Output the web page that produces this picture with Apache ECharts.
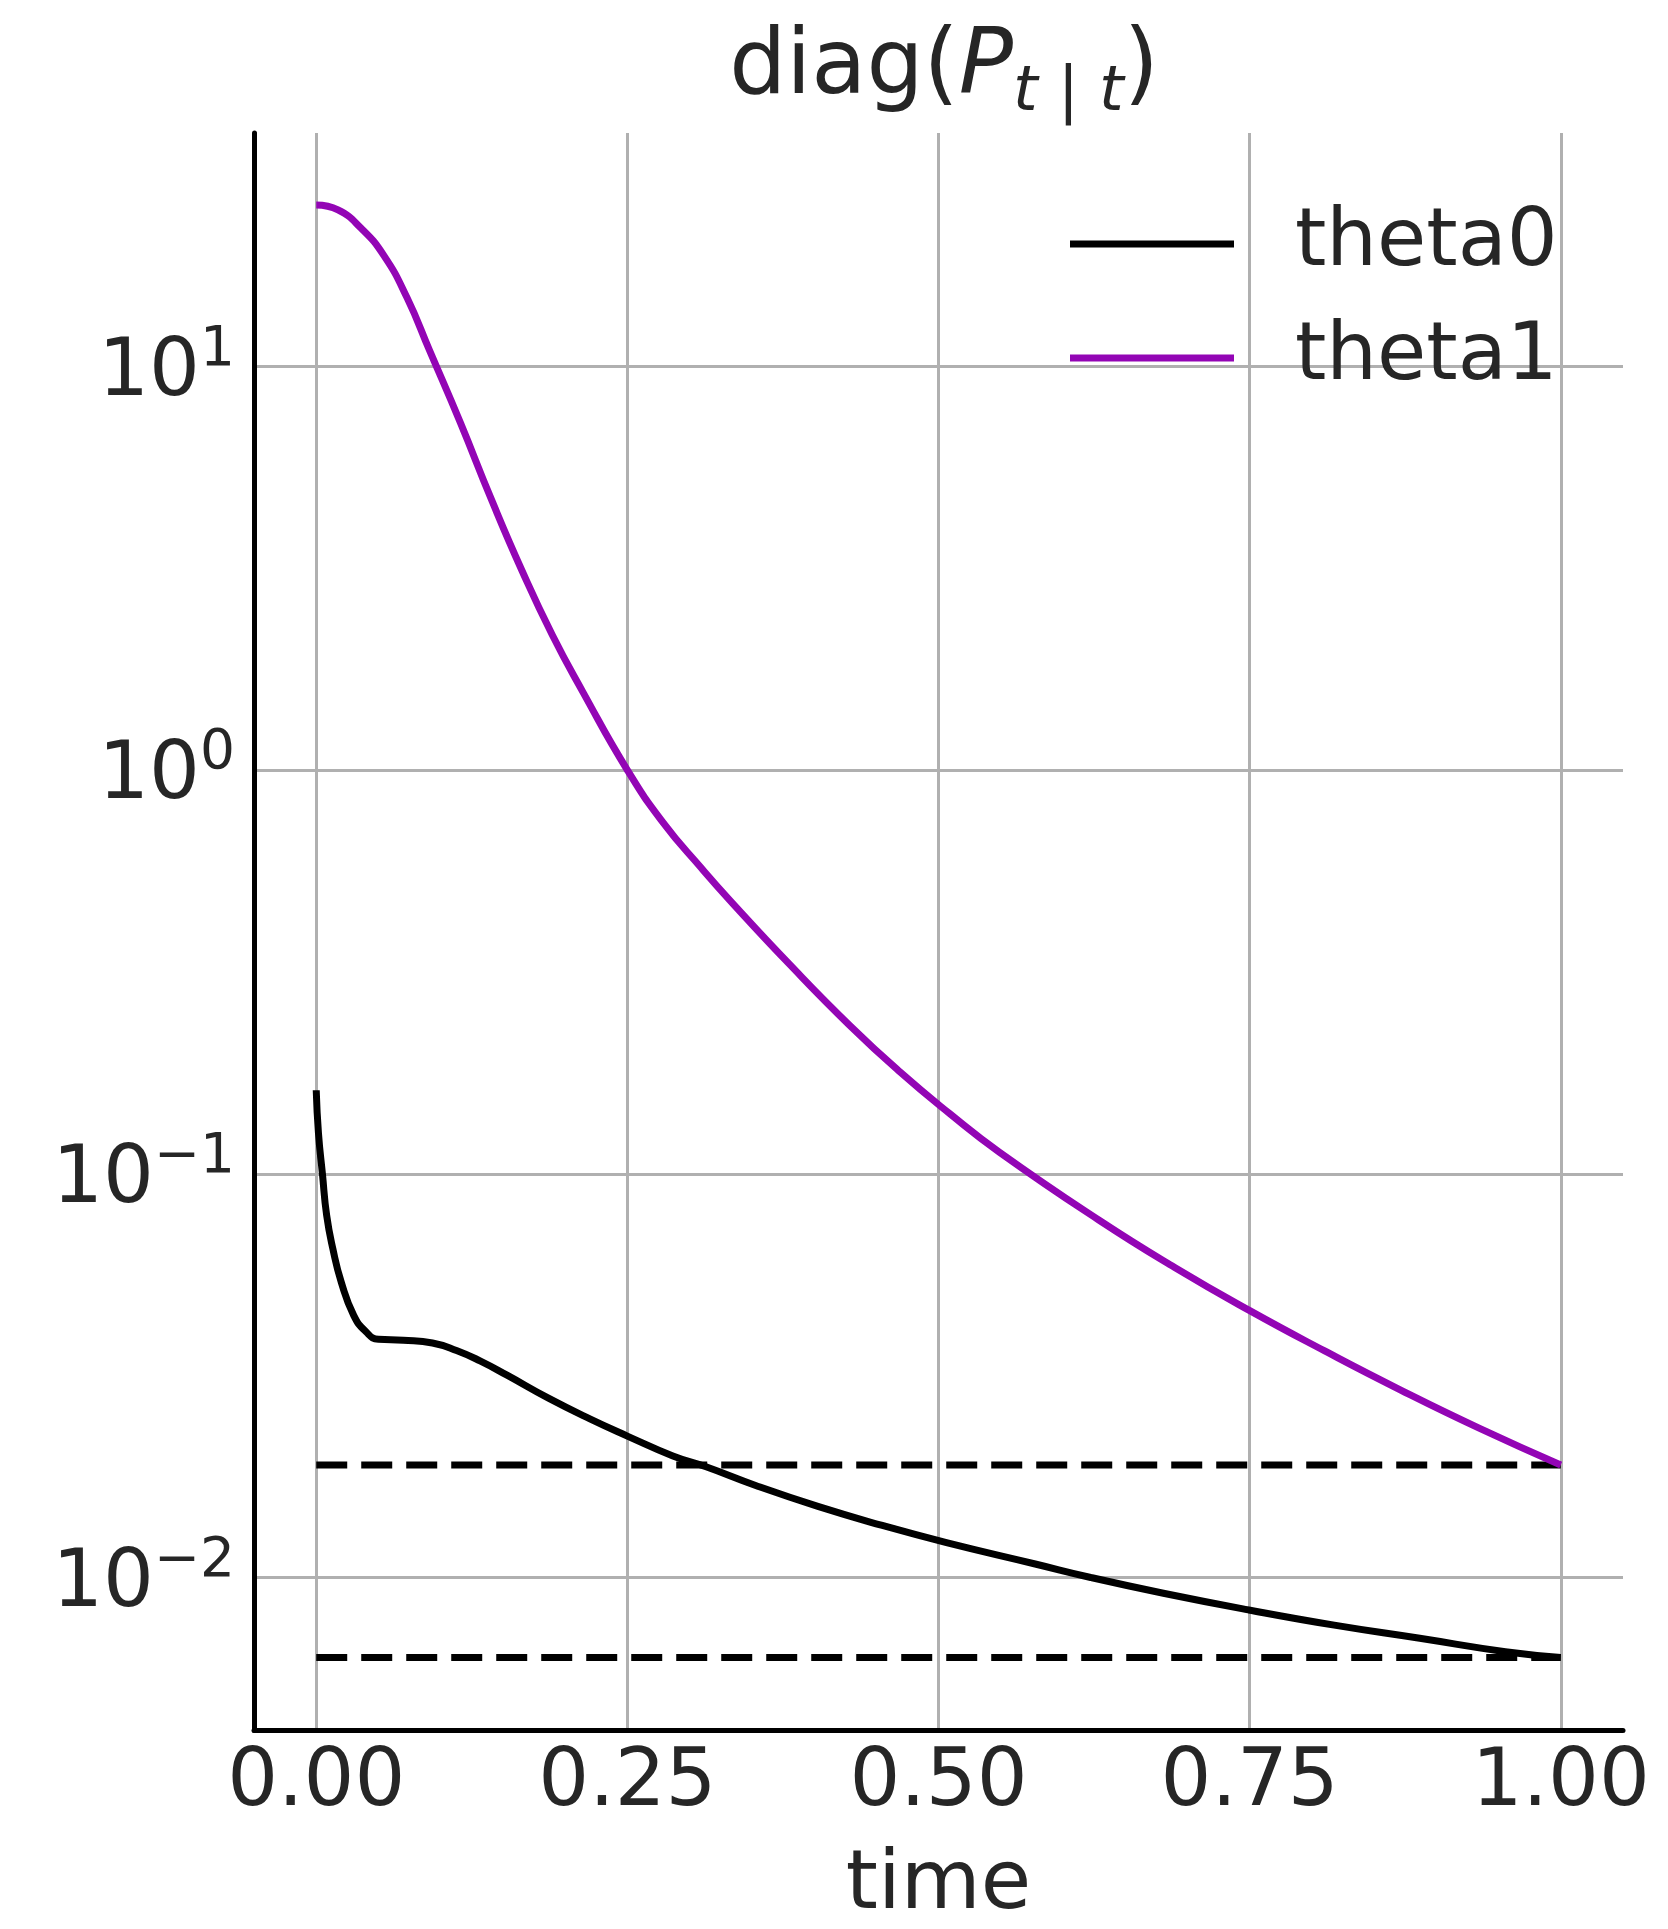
<!DOCTYPE html>
<html>
<head>
<meta charset="utf-8">
<script src="https://cdn.jsdelivr.net/npm/echarts@6/dist/echarts.min.js"></script>
<style>
  html, body { margin: 0; padding: 0; background: #ffffff; }
  #chart { width: 1668px; height: 1929px; }
</style>
</head>
<body>
<div id="chart"></div>
<script>
// Filtered covariance diagonal over time (log scale)
const timeTheta0 = [0, 0.0018, 0.005, 0.0084, 0.0134, 0.0201, 0.0301, 0.04, 0.05, 0.07, 0.0934,
  0.1127, 0.1316, 0.1533, 0.1866, 0.2199, 0.25, 0.2866, 0.3132, 0.3531, 0.4031, 0.4531, 0.5064,
  0.5777, 0.6223, 0.6807, 0.7493, 0.818, 0.8867, 0.9555, 1.0];
const theta0 = [0.161, 0.126, 0.0998, 0.0788, 0.0651, 0.0539, 0.0446, 0.0406, 0.0389, 0.0387, 0.0381,
  0.0365, 0.0344, 0.0317, 0.0278, 0.0247, 0.0224, 0.0200, 0.0188, 0.0169, 0.0150, 0.0135, 0.0122,
  0.0108, 0.0100, 0.00914, 0.00831, 0.00762, 0.00707, 0.00655, 0.00634];

const timeTheta1 = [0, 0.0175, 0.0359, 0.0544, 0.0729, 0.0913, 0.1159, 0.1405, 0.1651, 0.1897,
  0.2143, 0.25, 0.2789, 0.3096, 0.3342, 0.3804, 0.4287, 0.4688, 0.5089, 0.5491, 0.6294,
  0.6898, 0.7501, 0.8103, 0.8706, 0.9348, 1.0];
const theta1 = [25.1, 24.4, 22.0, 18.8, 14.8, 10.9, 7.24, 4.70, 3.13, 2.16,
  1.56, 1.0, 0.740, 0.571, 0.469, 0.330, 0.233, 0.179, 0.141, 0.113, 0.0766,
  0.0586, 0.0458, 0.0364, 0.0292, 0.0234, 0.0190];

// Reference levels (dashed)
const refLevels = [0.0190, 0.00634];
const refSpan = [0, 1];

const seriesNames = ['theta0', 'theta1'];
const xTicks = [0, 0.25, 0.5, 0.75, 1];
const xTickLabels = ['0.00', '0.25', '0.50', '0.75', '1.00'];

const TEXT = '#262626';
const FONT = 'DejaVu Sans';
const GRID_COLOR = '#b0b0b0';
const PURPLE = '#9305b5';

const chart = echarts.init(document.getElementById('chart'), null, { renderer: 'canvas' });

const dashedSeries = refLevels.map(v => ({
  type: 'line',
  name: 'ref' + v,
  data: refSpan.map(t => [t, v]),
  symbol: 'none',
  silent: true,
  lineStyle: { color: '#000000', width: 7, type: [31, 14], cap: 'butt' },
  z: 2
}));

const pairs = (ts, vs) => ts.map((t, i) => [t, vs[i]]);

const option = {
  animation: false,
  backgroundColor: '#ffffff',
  title: {
    text: '{n|diag(}{i|P}{s|t}{m| | }{s|t}{n|)}',
    left: 944,
    top: 14,
    textAlign: 'center',
    padding: 0,
    textStyle: {
      fontSize: 90,
      fontFamily: FONT,
      color: TEXT,
      fontWeight: 'normal',
      rich: {
        n: { fontSize: 90, fontFamily: FONT, color: TEXT },
        i: { fontSize: 90, fontFamily: FONT, color: TEXT, fontStyle: 'italic' },
        s: { fontSize: 63, fontFamily: FONT, color: TEXT, fontStyle: 'italic', padding: [48, 0, 0, 0] },
        m: { fontSize: 63, fontFamily: FONT, color: TEXT, padding: [48, 0, 0, 0] }
      }
    }
  },
  legend: {
    data: seriesNames,
    orient: 'vertical',
    left: 1070,
    top: 204,
    padding: 0,
    icon: 'rect',
    itemWidth: 164,
    itemHeight: 7,
    itemGap: 34,
    selectedMode: false,
    textStyle: { fontSize: 80, fontFamily: FONT, color: TEXT, padding: [0, 0, 0, 56] }
  },
  grid: {
    left: 254,
    right: 45,
    top: 133,
    bottom: 198.5,
    containLabel: false,
    outerBoundsMode: 'none'
  },
  xAxis: {
    type: 'value',
    min: -0.05,
    max: 1.05,
    name: 'time',
    nameLocation: 'middle',
    nameGap: 115,
    nameTextStyle: { fontSize: 82, fontFamily: FONT, color: TEXT },
    axisLine: { show: true, onZero: false, lineStyle: { color: '#000000', width: 5 } },
    axisTick: { show: false, customValues: xTicks },
    axisLabel: {
      customValues: xTicks,
      margin: 14,
      fontSize: 80,
      fontFamily: FONT,
      color: TEXT,
      formatter: v => xTickLabels[xTicks.indexOf(v)]
    },
    splitLine: { show: true, lineStyle: { color: GRID_COLOR, width: 3 } }
  },
  yAxis: {
    type: 'log',
    logBase: 10,
    min: 0.004178,
    max: 37.84,
    axisLine: { show: true, onZero: false, lineStyle: { color: '#000000', width: 5 } },
    axisTick: { show: false },
    axisLabel: {
      margin: 19,
      showMinLabel: false,
      showMaxLabel: false,
      formatter: v => {
        const e = Math.round(Math.log10(v));
        return '{b|10}{p|' + (e < 0 ? '\u2212' : '') + Math.abs(e) + '}';
      },
      rich: {
        b: { fontSize: 80, fontFamily: FONT, color: TEXT, padding: [15, 0, 0, 0] },
        p: { fontSize: 55, fontFamily: FONT, color: TEXT, padding: [0, 0, 32, 0] }
      }
    },
    splitLine: {
      show: true,
      showMinLine: false,
      showMaxLine: false,
      lineStyle: { color: GRID_COLOR, width: 3 }
    }
  },
  series: [
    ...dashedSeries,
    {
      type: 'line',
      name: seriesNames[0],
      data: pairs(timeTheta0, theta0),
      symbol: 'none',
      smooth: 0.5,
      lineStyle: { color: '#000000', width: 7 },
      itemStyle: { color: '#000000' },
      z: 3
    },
    {
      type: 'line',
      name: seriesNames[1],
      data: pairs(timeTheta1, theta1),
      symbol: 'none',
      smooth: 0.5,
      lineStyle: { color: PURPLE, width: 7 },
      itemStyle: { color: PURPLE },
      z: 4
    }
  ]
};

chart.setOption(option);
</script>
</body>
</html>
